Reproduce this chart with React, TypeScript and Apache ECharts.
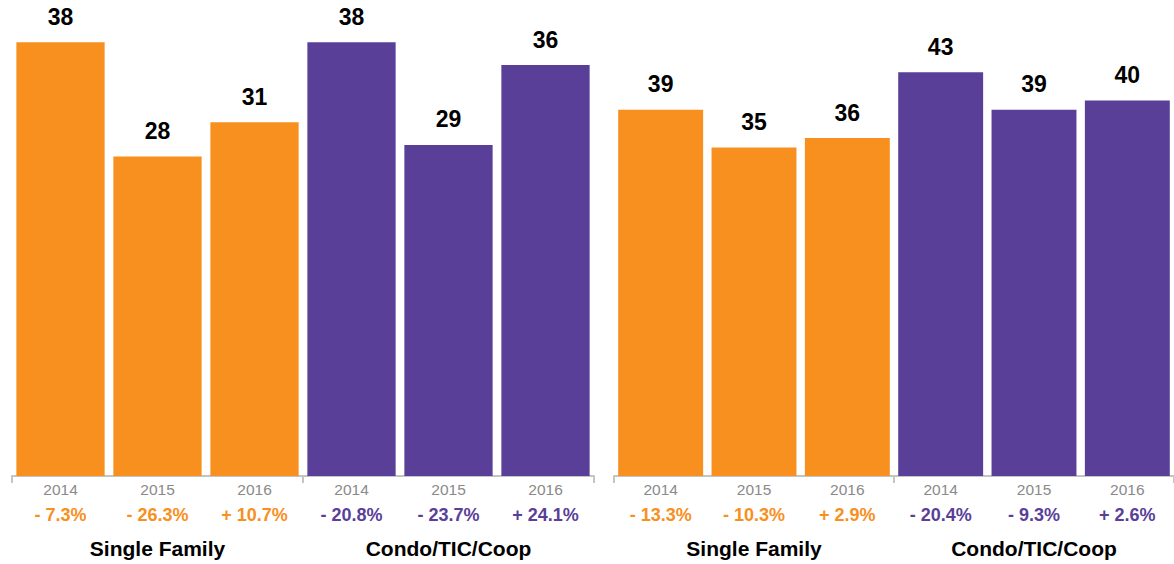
import React, { useEffect, useRef } from "react";
import * as echarts from "echarts";

const years = ["2014", "2015", "2016", "2014", "2015", "2016"];
const groups = ["Single Family", "Condo/TIC/Coop"];
const leftValues = [38, 28, 31, 38, 29, 36];
const leftChanges = ["- 7.3%", "- 26.3%", "+ 10.7%", "- 20.8%", "- 23.7%", "+ 24.1%"];
const rightValues = [39, 35, 36, 43, 39, 40];
const rightChanges = ["- 13.3%", "- 10.3%", "+ 2.9%", "- 20.4%", "- 9.3%", "+ 2.6%"];

const ORANGE = "#F7901E";
const PURPLE = "#5A3F98";
const FONT = "'Liberation Sans', Arial, Helvetica, sans-serif";

const colorOf = (i: number) => (i < 3 ? ORANGE : PURPLE);

export default function App() {
  const ref = useRef<HTMLDivElement>(null);
  useEffect(() => {
    if (!ref.current) return;
    const chart = echarts.init(ref.current, null, { renderer: "svg" });
    const grids = [
      { left: 12, width: 582, top: 0, bottom: 88 },
      { left: 614, width: 564, top: 0, bottom: 88 },
    ];
    const maxes = [41.7, 50.7];
    const changes = [leftChanges, rightChanges];
    const values = [leftValues, rightValues];
    const xAxis: any[] = [];
    const yAxis: any[] = [];
    const series: any[] = [];
    grids.forEach((_, g) => {
      xAxis.push({
        type: "category",
        gridIndex: g,
        data: years,
        position: "bottom",
        axisLine: { show: false },
        axisTick: { show: false },
        axisLabel: { margin: 5, fontSize: 15.5, color: "#8a8a8a", fontFamily: FONT },
      });
      xAxis.push({
        type: "category",
        gridIndex: g,
        data: changes[g],
        position: "bottom",
        offset: 0,
        axisLine: { show: false },
        axisTick: { show: false },
        axisLabel: {
          margin: 30,
          fontSize: 18,
          fontWeight: "bold",
          fontFamily: FONT,
          color: (_v: any, i: number) => colorOf(i),
        },
      });
      xAxis.push({
        type: "category",
        gridIndex: g,
        data: groups,
        position: "bottom",
        offset: 0,
        axisLine: { show: true, lineStyle: { color: "#c4c4c4", width: 2 } },
        axisTick: { show: true, length: 7, lineStyle: { color: "#c4c4c4", width: 2 } },
        axisLabel: { margin: 62, fontSize: 21, fontWeight: "bold", color: "#000", fontFamily: FONT },
      });
      yAxis.push({
        type: "value",
        gridIndex: g,
        min: 0,
        max: maxes[g],
        show: false,
        splitLine: { show: false },
      });
      series.push({
        type: "bar",
        xAxisIndex: g * 3,
        yAxisIndex: g,
        barCategoryGap: "9%",
        data: values[g].map((v, i) => ({ value: v, itemStyle: { color: colorOf(i) } })),
        label: {
          show: true,
          position: "top",
          distance: 14,
          fontSize: 23,
          fontWeight: "bold",
          color: "#000",
          fontFamily: FONT,
        },
      });
    });
    chart.setOption({
      animation: false,
      grid: grids,
      xAxis,
      yAxis,
      series,
    });
    return () => chart.dispose();
  }, []);
  return (
    <div
      ref={ref}
      style={{ position: "fixed", left: 0, top: 0, width: 1174, height: 564, background: "#fff" }}
    />
  );
}
